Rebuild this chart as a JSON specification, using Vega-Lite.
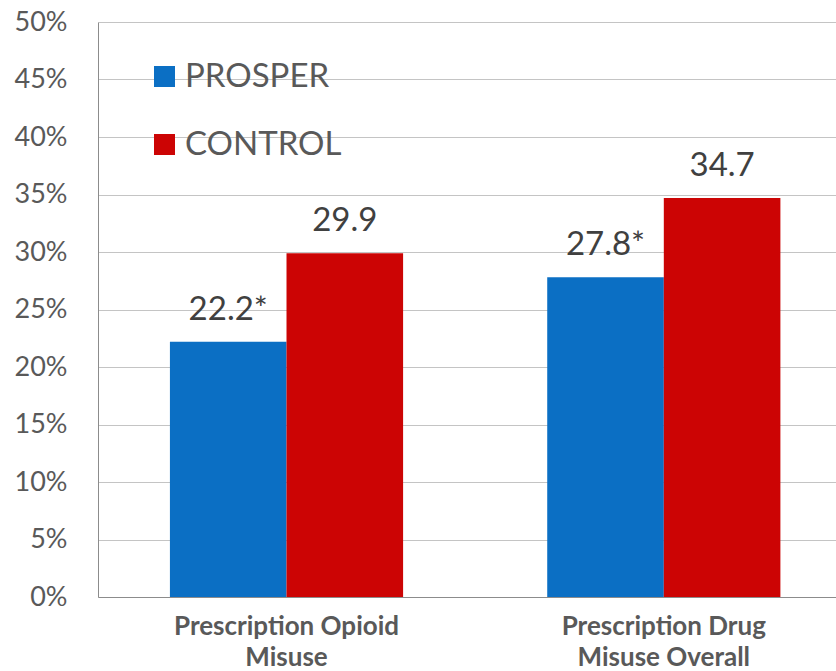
{
  "$schema": "https://vega.github.io/schema/vega-lite/v6.json",
  "autosize": {"type": "none"},
  "padding": {"left": 98, "top": 22, "right": 0, "bottom": 74},
  "width": 738,
  "height": 575,
  "background": "white",
  "config": {
    "font": "Lato",
    "view": {"stroke": null},
    "axis": {"grid": false}
  },
  "data": {
    "values": [
      {"group": "Prescription Opioid|Misuse", "series": "PROSPER", "value": 0.222, "label": "22.2*"},
      {"group": "Prescription Opioid|Misuse", "series": "CONTROL", "value": 0.299, "label": "29.9"},
      {"group": "Prescription Drug|Misuse Overall", "series": "PROSPER", "value": 0.278, "label": "27.8*"},
      {"group": "Prescription Drug|Misuse Overall", "series": "CONTROL", "value": 0.347, "label": "34.7"}
    ]
  },
  "encoding": {
    "x": {
      "field": "group",
      "type": "nominal",
      "sort": null,
      "scale": {"paddingInner": 0.382, "paddingOuter": 0.169, "align": 0.564},
      "axis": {
        "title": null,
        "labelAngle": 0,
        "ticks": false,
        "domainColor": "#8C8C8C",
        "domainWidth": 1,
        "labelExpr": "split(datum.value, '|')",
        "labelFont": "Lato",
        "labelFontWeight": "bold",
        "labelFontSize": 26,
        "labelColor": "#595959",
        "labelPadding": 16,
        "labelLineHeight": 31,
        "labelLimit": 500,
        "labelBaseline": "top"
      }
    },
    "xOffset": {
      "field": "series",
      "type": "nominal",
      "sort": ["PROSPER", "CONTROL"],
      "scale": {"paddingInner": 0, "paddingOuter": 0}
    },
    "y": {
      "field": "value",
      "type": "quantitative",
      "scale": {"domain": [0, 0.5], "nice": false},
      "axis": {
        "title": null,
        "values": [0, 0.05, 0.1, 0.15, 0.2, 0.25, 0.3, 0.35, 0.4, 0.45, 0.5],
        "format": ".0%",
        "grid": true,
        "gridColor": "#C4C4C4",
        "gridWidth": 1,
        "ticks": false,
        "domainColor": "#8C8C8C",
        "labelFont": "Lato",
        "labelFontSize": 27,
        "labelColor": "#595959",
        "labelPadding": 31
      }
    }
  },
  "layer": [
    {
      "mark": {"type": "bar"},
      "encoding": {
        "color": {
          "field": "series",
          "type": "nominal",
          "sort": ["PROSPER", "CONTROL"],
          "scale": {"domain": ["PROSPER", "CONTROL"], "range": ["#0B6FC4", "#CC0404"]},
          "legend": {
            "title": null,
            "orient": "none",
            "legendX": 50,
            "legendY": 38,
            "symbolType": "square",
            "symbolSize": 441,
            "symbolStrokeWidth": 0,
            "labelFont": "Lato",
            "labelFontSize": 33,
            "labelColor": "#595959",
            "labelOffset": 4,
            "rowPadding": 34,
            "padding": 0
          }
        }
      }
    },
    {
      "mark": {"type": "text", "dy": -22, "baseline": "alphabetic", "fontSize": 33, "font": "Lato", "color": "#404040"},
      "encoding": {
        "text": {"field": "label"}
      }
    }
  ]
}
